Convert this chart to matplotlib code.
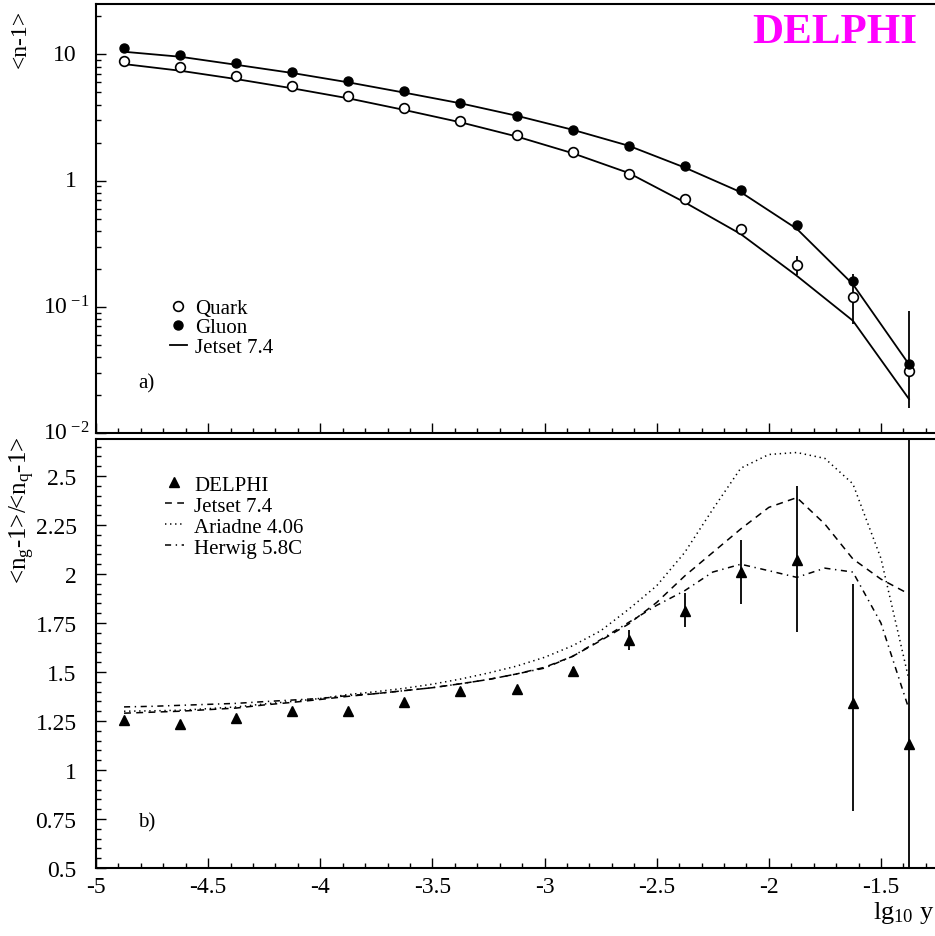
import numpy as np
import matplotlib
matplotlib.use('Agg')
import matplotlib.pyplot as plt
from matplotlib.ticker import FixedLocator, MultipleLocator, LogLocator, NullFormatter, FuncFormatter
from matplotlib.transforms import blended_transform_factory

plt.rcParams['font.family'] = ['Liberation Serif', 'DejaVu Serif']
plt.rcParams['mathtext.fontset'] = 'custom'
plt.rcParams['mathtext.rm'] = 'Liberation Serif'
plt.rcParams['mathtext.it'] = 'Liberation Serif:italic'
plt.rcParams['mathtext.bf'] = 'Liberation Serif:bold'
plt.rcParams['axes.unicode_minus'] = False

# ── data ────────────────────────────────────────────────
lgy = [-4.875, -4.625, -4.375, -4.125, -3.875, -3.625, -3.375, -3.125,
       -2.875, -2.625, -2.375, -2.125, -1.875, -1.625, -1.375]

quark = [8.91, 7.90, 6.70, 5.62, 4.68, 3.78, 2.97, 2.31,
         1.68, 1.12, 0.711, 0.411, 0.216, 0.120, 0.031]
quark_err_lo = [0, 0, 0, 0, 0, 0, 0, 0, 0, 0, 0, 0, 0.037, 0.047, 0.0153]
quark_err_hi = [0, 0, 0, 0, 0, 0, 0, 0, 0, 0, 0, 0, 0.035, 0.062, 0.062]
gluon = [11.2, 9.84, 8.5, 7.29, 6.15, 5.10, 4.14, 3.27,
         2.53, 1.87, 1.31, 0.838, 0.445, 0.161, 0.0352]
jetset_quark = [8.39, 7.43, 6.38, 5.39, 4.49, 3.63, 2.90, 2.24,
                1.65, 1.15, 0.673, 0.377, 0.176, 0.0776, 0.0186]
jetset_gluon = [10.5, 9.59, 8.28, 7.13, 6.01, 4.98, 4.10, 3.27,
                2.53, 1.89, 1.27, 0.81, 0.415, 0.151, 0.035]

ratio = [1.257, 1.235, 1.265, 1.30, 1.30, 1.345, 1.405, 1.413,
         1.507, 1.663, 1.811, 2.009, 2.071, 1.342, 1.133]
ratio_err_lo = [0, 0, 0, 0, 0, 0, 0, 0.012, 0.02, 0.05, 0.08, 0.162, 0.368, 0.55, 1.8]
ratio_err_hi = [0, 0, 0, 0, 0, 0, 0, 0.012, 0.02, 0.05, 0.09, 0.164, 0.376, 0.607, 1.8]

# model curves, read at steps of 0.125 in lg10 y
lgy_fine = [-4.875, -4.75, -4.625, -4.5, -4.375, -4.25, -4.125, -4.0,
            -3.875, -3.75, -3.625, -3.5, -3.375, -3.25, -3.125, -3.0,
            -2.875, -2.75, -2.625, -2.5, -2.375, -2.25, -2.125, -2.0,
            -1.875, -1.75, -1.625, -1.5, -1.375]
r_jetset = [1.290, 1.295, 1.300, 1.308, 1.316, 1.332, 1.345, 1.360,
            1.376, 1.390, 1.405, 1.420, 1.440, 1.462, 1.490, 1.524,
            1.580, 1.660, 1.745, 1.855, 1.990, 2.110, 2.230, 2.340,
            2.390, 2.255, 2.077, 1.974, 1.898]
r_ariadne = [1.300, 1.302, 1.305, 1.313, 1.322, 1.337, 1.350, 1.365,
             1.385, 1.400, 1.417, 1.438, 1.464, 1.495, 1.530, 1.575,
             1.634, 1.710, 1.820, 1.940, 2.110, 2.330, 2.540, 2.610,
             2.620, 2.590, 2.460, 2.080, 1.460]
r_herwig = [1.322, 1.325, 1.330, 1.335, 1.340, 1.349, 1.357, 1.365,
            1.380, 1.390, 1.405, 1.420, 1.440, 1.462, 1.490, 1.520,
            1.580, 1.665, 1.753, 1.840, 1.915, 2.010, 2.050, 2.017,
            1.983, 2.030, 2.010, 1.750, 1.310]

# decade labels of panel a
decades = [10, 1, 0.1, 0.01]
decade_labels = ['10', '1', r'$\mathrm{10}^{\ \mathrm{-1}}$', r'$\mathrm{10}^{\ \mathrm{-2}}$']

# ── figure ──────────────────────────────────────────────
W, H = 935, 937
fig = plt.figure(figsize=(W / 100, H / 100), dpi=100)
ax1 = fig.add_axes([96 / W, 1 - 434 / H, 841 / W, 429 / H])
ax2 = fig.add_axes([96 / W, 1 - 869 / H, 841 / W, 429 / H])

for ax in (ax1, ax2):
    for s in ax.spines.values():
        s.set_linewidth(1.5)
    ax.set_xlim(-5, -1.25)
    ax.xaxis.set_major_locator(MultipleLocator(0.5))
    ax.xaxis.set_minor_locator(MultipleLocator(0.1))
    ax.xaxis.set_major_formatter(FuncFormatter(lambda v, p: '%g' % v))
    ax.tick_params(which='both', direction='in', top=False, right=False,
                   labelsize=17, width=1)
    ax.tick_params(which='major', length=7)
    ax.tick_params(which='minor', length=3.5)
    ax.tick_params(axis='x', pad=6)
    ax.tick_params(axis='y', pad=14)

# ── panel a ─────────────────────────────────────────────
ax1.set_yscale('log')
ax1.set_ylim(0.01, 25.1)
ax1.yaxis.set_major_locator(FixedLocator(decades))
ax1.yaxis.set_minor_locator(LogLocator(base=10, subs=np.arange(2, 10)))
ax1.yaxis.set_minor_formatter(NullFormatter())
ax1.yaxis.set_major_formatter(NullFormatter())
ax1.tick_params(axis='x', labelbottom=False)

# exponent labels hang out to the right of the plain ones
ylab_tr = blended_transform_factory(ax1.transAxes, ax1.transData)
for v, s in zip(decades, decade_labels):
    xr = -0.0226 if v >= 1 else -0.0083
    ax1.text(xr, v, s, transform=ylab_tr, ha='right', va='center',
             fontsize=17, clip_on=False)

lq, = ax1.plot(lgy, jetset_quark, color='black', lw=1.3)
ax1.plot(lgy, jetset_gluon, color='black', lw=1.3)
ax1.errorbar(lgy, quark, yerr=[quark_err_lo, quark_err_hi], fmt='none',
             ecolor='black', elinewidth=1.3, capsize=0)
hq, = ax1.plot(lgy, quark, 'o', ms=7, mfc='white', mec='black', mew=1.2,
               linestyle='none')
hg, = ax1.plot(lgy, gluon, 'o', ms=6.5, mfc='black', mec='black',
               linestyle='none')

ax1.legend([hq, hg, lq], ['Quark', 'Gluon', 'Jetset 7.4'],
           loc='upper left', bbox_to_anchor=(0.088, 0.314),
           frameon=False, fontsize=15, handlelength=0.8,
           handletextpad=0.4, labelspacing=0.0, borderpad=0,
           borderaxespad=0, numpoints=1)

ax1.text(0.05, 0.118, 'a)', transform=ax1.transAxes, fontsize=15,
         ha='left', va='center')
ax1.text(0.977, 0.912, 'DELPHI', transform=ax1.transAxes, fontsize=31,
         fontweight='bold', color='#ff00ff', ha='right', va='baseline')

# ── panel b ─────────────────────────────────────────────
ax2.set_ylim(0.5, 2.689)
ax2.yaxis.set_major_locator(MultipleLocator(0.25))
ax2.yaxis.set_minor_locator(MultipleLocator(0.05))
ax2.yaxis.set_major_formatter(FuncFormatter(lambda v, p: '%g' % v))

hj, = ax2.plot(lgy_fine, r_jetset, color='black', lw=1.1,
               linestyle=(0, (4.5, 3.5)))
ha, = ax2.plot(lgy_fine, r_ariadne, color='black', lw=1.1,
               linestyle=(0, (0.9, 2.4)))
hh, = ax2.plot(lgy_fine, r_herwig, color='black', lw=1.1,
               linestyle=(0, (4, 3, 0.9, 3)))
ax2.errorbar(lgy, ratio, yerr=[ratio_err_lo, ratio_err_hi], fmt='none',
             ecolor='black', elinewidth=1.3, capsize=0)
hd, = ax2.plot(lgy, ratio, '^', ms=7, color='black', linestyle='none')

ax2.legend([hd, hj, ha, hh], ['DELPHI', 'Jetset 7.4', 'Ariadne 4.06', 'Herwig 5.8C'],
           loc='upper left', bbox_to_anchor=(0.082, 0.916),
           frameon=False, fontsize=15, handlelength=0.9,
           handletextpad=0.5, labelspacing=0.07, borderpad=0,
           borderaxespad=0, numpoints=1)

ax2.text(0.05, 0.107, 'b)', transform=ax2.transAxes, fontsize=15,
         ha='left', va='center')

# ── axis titles ─────────────────────────────────────────
fig.text(20 / W, 1 - 10 / H, '<n-1>', rotation=90, ha='center', va='top',
         fontsize=17)
fig.text(22 / W, 1 - 437 / H, r'<n$_{\mathrm{g}}$-1>/<n$_{\mathrm{q}}$-1>',
         rotation=90, ha='center', va='top', fontsize=18)
fig.text(935 / W, 1 - 913 / H, r'lg$_{\mathrm{10}}$ y', ha='right',
         va='center', fontsize=19)

fig.savefig('out.png', dpi=100)
